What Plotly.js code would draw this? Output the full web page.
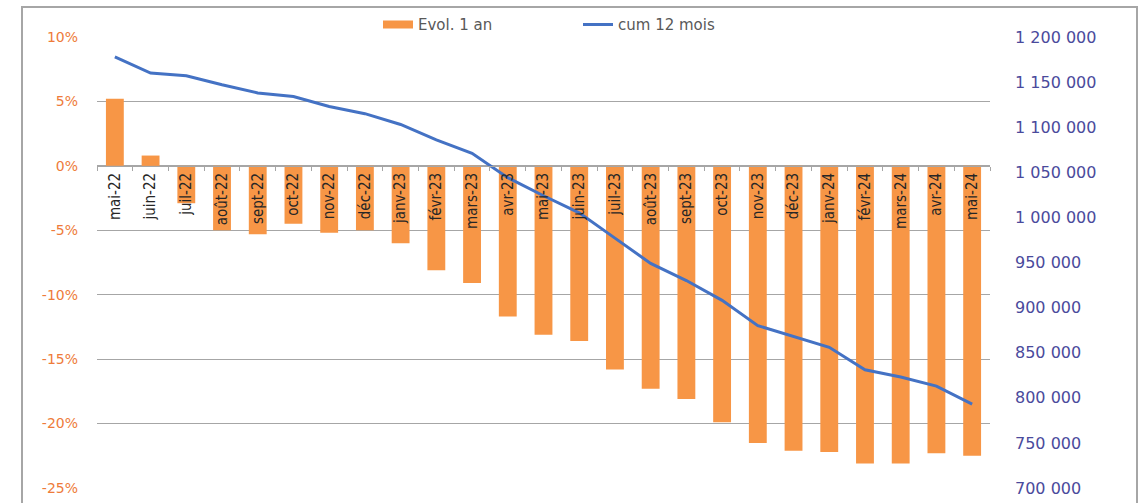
<!DOCTYPE html>
<html>
<head>
<meta charset="utf-8">
<script src="https://cdn.plot.ly/plotly-3.0.1.min.js"></script>
<style>
  html, body { margin: 0; padding: 0; background: #ffffff; }
  #chart { width: 1144px; height: 503px; }
</style>
</head>
<body>
<div id="chart"></div>
<script>
// Categories (months)
const months = ["mai-22","juin-22","juil-22","août-22","sept-22","oct-22","nov-22","déc-22",
  "janv-23","févr-23","mars-23","avr-23","mai-23","juin-23","juil-23","août-23","sept-23",
  "oct-23","nov-23","déc-23","janv-24","févr-24","mars-24","avr-24","mai-24"];

// Evol. 1 an (%)
const evol1an = [5.2, 0.8, -2.9, -5.0, -5.3, -4.5, -5.2, -5.0,
  -6.0, -8.1, -9.1, -11.7, -13.1, -13.6, -15.8, -17.3, -18.1,
  -19.9, -21.5, -22.1, -22.2, -23.1, -23.1, -22.3, -22.5];

// cum 12 mois
const cum12mois = [1178000, 1160000, 1157000, 1147000, 1138000, 1134000, 1123000, 1115000,
  1103000, 1086000, 1071000, 1044000, 1024000, 1005000, 977000, 949000, 930000,
  908000, 880000, 868000, 856000, 831000, 823000, 813000, 793000];

// Left axis ticks
const leftTickVals = [10, 5, 0, -5, -10, -15, -20, -25];
const leftTickText = ["10%", "5%", "0%", "-5%", "-10%", "-15%", "-20%", "-25%"];

const barColor = "#F79646";
const lineColor = "#4472C4";

const traces = [
  {
    type: "bar",
    name: "Evol. 1 an",
    x: months,
    y: evol1an,
    marker: { color: barColor },
    yaxis: "y",
    showlegend: false,
    legendgroup: "evol"
  },
  {
    // legend key only (wide flat swatch like the original)
    type: "scatter",
    mode: "lines",
    name: "Evol. 1 an",
    x: [null],
    y: [null],
    line: { color: barColor, width: 8 },
    yaxis: "y",
    legendgroup: "evol",
    hoverinfo: "skip"
  },
  {
    type: "scatter",
    mode: "lines",
    name: "cum 12 mois",
    x: months,
    y: cum12mois,
    line: { color: lineColor, width: 3 },
    yaxis: "y2"
  }
];

const layout = {
  width: 1144,
  height: 503,
  margin: { l: 97, r: 154, t: 37, b: 15, autoexpand: false },
  paper_bgcolor: "#ffffff",
  plot_bgcolor: "#ffffff",
  separators: ", ",
  bargap: 0.5,
  showlegend: true,
  legend: {
    orientation: "h",
    x: (378 - 97) / 893, xanchor: "left",
    y: 1.027, yanchor: "middle",
    font: { family: "DejaVu Sans, Verdana, sans-serif", size: 15, color: "#595959" },
    bgcolor: "rgba(0,0,0,0)",
    entrywidth: 155,
    entrywidthmode: "pixels",
    traceorder: "normal"
  },
  xaxis: {
    type: "category",
    anchor: "free",
    position: 25 / 35,
    tickangle: -90,
    tickson: "boundaries",
    ticks: "outside",
    ticklen: 4,
    tickcolor: "#A6A6A6",
    showline: true,
    linecolor: "#A6A6A6",
    linewidth: 1,
    showgrid: false,
    zeroline: false,
    tickfont: { family: "Liberation Sans Narrow, Arial Narrow, DejaVu Sans Condensed, Liberation Sans, sans-serif", size: 15, color: "#262626" },
    fixedrange: true
  },
  yaxis: {
    range: [-25, 10],
    tickvals: leftTickVals,
    ticktext: leftTickText,
    showgrid: true,
    gridcolor: "#A6A6A6",
    gridwidth: 1,
    zeroline: false,
    showline: false,
    ticks: "",
    ticklabelstandoff: 18,
    tickfont: { family: "DejaVu Sans, Verdana, sans-serif", size: 14, color: "#EE7B3A" },
    fixedrange: true
  },
  yaxis2: {
    overlaying: "y",
    side: "right",
    range: [700000, 1200000],
    dtick: 50000,
    tick0: 700000,
    tickformat: ",d",
    showgrid: false,
    zeroline: false,
    showline: false,
    ticks: "",
    ticklabelstandoff: 24,
    tickfont: { family: "DejaVu Sans, Verdana, sans-serif", size: 16, color: "#4A4A9C" },
    fixedrange: true
  },
  shapes: [
    {
      type: "rect", xref: "paper", yref: "paper",
      x0: (22 - 97) / 893, x1: (1137 - 97) / 893,
      y0: -0.06, y1: (488 - 7) / 451,
      line: { color: "#A6A6A6", width: 2 },
      fillcolor: "rgba(0,0,0,0)",
      layer: "below"
    }
  ]
};

Plotly.newPlot("chart", traces, layout, { displayModeBar: false, staticPlot: true });
</script>
</body>
</html>
